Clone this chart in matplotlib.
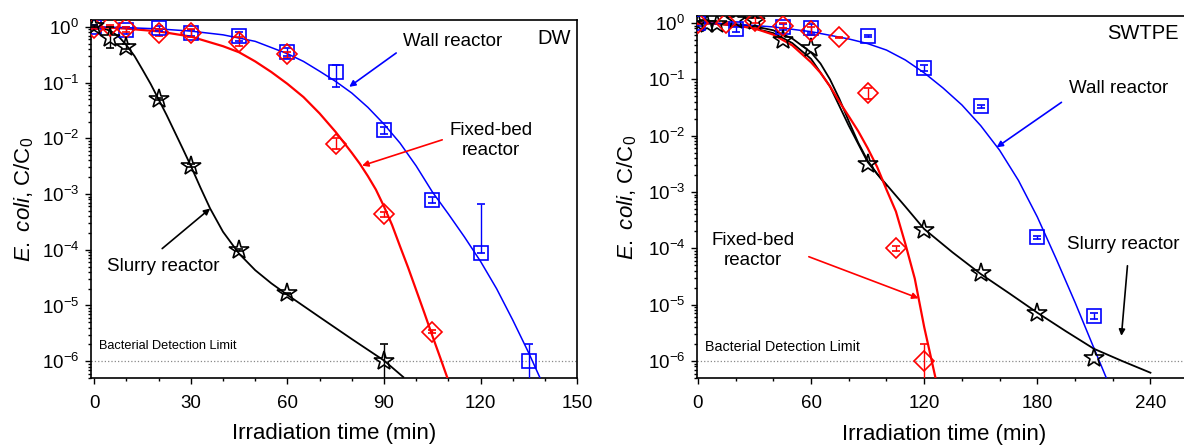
import numpy as np
import matplotlib
matplotlib.use('Agg')
import matplotlib.pyplot as plt

plt.rcParams['font.family'] = ['Liberation Sans', 'DejaVu Sans']
plt.rcParams['mathtext.fontset'] = 'custom'
plt.rcParams['mathtext.rm'] = 'Liberation Sans'
plt.rcParams['mathtext.it'] = 'Liberation Sans:italic'
plt.rcParams['axes.unicode_minus'] = False

# ---------------- DW panel data ----------------
dw_t_wall = [0, 10, 20, 30, 45, 60, 75, 90, 105, 120, 135]
dw_c_wall = [1.0, 0.88, 0.96, 0.78, 0.68, 0.36, 0.157, 0.014, 7.9e-4, 8.9e-5, 1e-6]
dw_lo_wall = [0.9, 0.75, 0.85, 0.7, 0.55, 0.3, 0.084, 0.012, 7e-4, 8.9e-5, 1e-7]
dw_hi_wall = [1.1, 1.0, 1.05, 0.88, 0.8, 0.42, 0.21, 0.016, 9e-4, 6.6e-4, 2e-6]

dw_t_fb = [0, 5, 10, 20, 30, 45, 60, 75, 90, 105]
dw_c_fb = [0.96, 1.05, 0.95, 0.78, 0.78, 0.54, 0.32, 0.008, 4.3e-4, 3.4e-6]
dw_lo_fb = [0.9, 1.0, 0.8, 0.7, 0.65, 0.45, 0.28, 0.0065, 3.8e-4, 3.2e-6]
dw_hi_fb = [1.0, 1.1, 1.0, 0.9, 0.9, 0.65, 0.36, 0.01, 4.8e-4, 3.6e-6]

dw_t_sl = [0, 5, 10, 20, 30, 45, 60, 90]
dw_c_sl = [1.05, 0.62, 0.44, 0.051, 0.0032, 1e-4, 1.65e-5, 1e-6]
dw_lo_sl = [1.0, 0.42, 0.4, 0.048, 0.003, 9.5e-5, 1.6e-5, 1e-7]
dw_hi_sl = [1.1, 1.0, 0.5, 0.054, 0.0034, 1.05e-4, 1.7e-5, 2e-6]

# fitted curves
dw_fit_wall_t = [0, 10, 20, 30, 40, 50, 60, 65, 70, 75, 80, 85, 90, 95, 100,
                 105, 110, 115, 120, 125, 130, 135, 138.5]
dw_fit_wall_c = [1.0, 0.97, 0.92, 0.84, 0.72, 0.55, 0.33, 0.24, 0.16, 0.105, 0.065,
                 0.036, 0.018, 0.0082, 0.0032, 1.1e-3, 4.4e-4, 1.7e-4, 6.2e-5, 2e-5,
                 5.5e-6, 1.4e-6, 5e-7]
dw_fit_fb_t = [0, 10, 20, 30, 40, 45, 50, 55, 60, 65, 70, 75, 80, 82.5, 85, 87.5,
               90, 92.5, 95, 97.5, 100, 102.5, 105, 107.5, 110]
dw_fit_fb_c = [1.0, 0.93, 0.83, 0.67, 0.45, 0.35, 0.24, 0.155, 0.095, 0.055, 0.028,
               0.013, 0.0055, 0.0035, 0.0021, 0.0012, 6e-4, 2.8e-4, 1.15e-4,
               4.8e-5, 1.9e-5, 7.5e-6, 2.9e-6, 1.15e-6, 4.5e-7]
dw_fit_sl_t = [0, 2.5, 5, 7.5, 10, 12.5, 15, 17.5, 20, 22.5, 25, 27.5, 30, 33, 36,
               40, 45, 50, 55, 60, 70, 80, 90, 96]
dw_fit_sl_c = [1.0, 0.95, 0.85, 0.68, 0.47, 0.3, 0.17, 0.095, 0.05, 0.026, 0.013,
               0.0065, 0.0032, 0.0013, 5.5e-4, 2.1e-4, 8.5e-5, 4.3e-5, 2.5e-5,
               1.55e-5, 6.2e-6, 2.5e-6, 1.03e-6, 5.2e-7]

# ---------------- SWTPE panel data ----------------
sw_t_wall = [0, 20, 45, 60, 90, 120, 150, 180, 210]
sw_c_wall = [1.0, 0.78, 0.85, 0.8, 0.59, 0.16, 0.033, 1.56e-4, 6.3e-6]
sw_lo_wall = [0.9, 0.7, 0.75, 0.65, 0.56, 0.14, 0.031, 1.45e-4, 5.5e-6]
sw_hi_wall = [1.1, 0.85, 0.95, 0.95, 0.62, 0.18, 0.035, 1.65e-4, 7e-6]

sw_t_fb = [0, 15, 30, 45, 60, 75, 90, 105, 120]
sw_c_fb = [1.0, 1.0, 1.1, 0.9, 0.72, 0.56, 0.057, 1e-4, 1e-6]
sw_lo_fb = [0.95, 0.95, 1.0, 0.8, 0.6, 0.55, 0.045, 9e-5, 1e-7]
sw_hi_fb = [1.05, 1.05, 1.2, 1.0, 0.85, 0.57, 0.07, 1.1e-4, 2e-6]

sw_t_sl = [0, 5, 10, 20, 30, 45, 60, 90, 120, 150, 180, 210]
sw_c_sl = [1.0, 0.95, 0.97, 1.15, 1.1, 0.5, 0.36, 0.0032, 2.1e-4, 3.7e-5, 7.2e-6, 1.14e-6]

sw_fit_wall_t = [0, 20, 40, 60, 80, 90, 100, 110, 120, 130, 140, 150, 160, 170,
                 180, 190, 200, 210, 216.6]
sw_fit_wall_c = [1.0, 0.95, 0.85, 0.7, 0.52, 0.43, 0.33, 0.22, 0.13, 0.07, 0.035,
                 0.015, 0.0055, 0.0016, 3.6e-4, 6.5e-5, 1.1e-5, 1.7e-6, 5e-7]
sw_fit_fb_t = [0, 10, 20, 30, 40, 50, 60, 65, 70, 75, 80, 85, 90, 95, 98, 100,
               105, 110, 115, 120, 126]
sw_fit_fb_c = [1.0, 0.97, 0.9, 0.8, 0.62, 0.4, 0.2, 0.13, 0.075, 0.04, 0.022,
               0.012, 0.006, 0.0028, 0.0016, 1.1e-3, 4.5e-4, 1.2e-4, 2.9e-5, 4e-6, 5e-7]
sw_fit_sl_t = [0, 10, 20, 30, 40, 50, 60, 65, 70, 75, 80, 85, 90, 95, 100, 110,
               120, 135, 150, 165, 180, 195, 210, 225, 240]
sw_fit_sl_c = [1.0, 0.98, 0.94, 0.87, 0.74, 0.53, 0.3, 0.19, 0.1, 0.045, 0.018,
               0.0075, 0.0036, 0.0021, 1.35e-3, 5.5e-4, 2.2e-4, 8.5e-5, 3.5e-5,
               1.6e-5, 7.2e-6, 3.4e-6, 1.65e-6, 1e-6, 6.2e-7]
sw_fit_sl2_t = [0, 10, 20, 30, 40, 50, 60, 70, 80, 90, 100]
sw_fit_sl2_c = [1.0, 0.96, 0.9, 0.8, 0.66, 0.44, 0.23, 0.075, 0.015, 0.0034, 1.3e-3]

blue = '#0000ff'
red = '#ff0000'
black = '#000000'

fig = plt.figure(figsize=(11.84, 4.46), dpi=100)
ax1 = fig.add_axes([0.0769, 0.1525, 0.4105, 0.8027])
ax2 = fig.add_axes([0.5887, 0.1525, 0.4172, 0.8117])


def err(c, lo, hi):
    c = np.array(c)
    return [c - np.array(lo), np.array(hi) - c]


def points(ax, t, c, lo, hi, marker, ms, color):
    if lo is None:
        ax.plot(t, c, linestyle='none', marker=marker, ms=ms, mfc='none',
                mec=color, mew=1.2, zorder=4)
    else:
        ax.errorbar(t, c, yerr=err(c, lo, hi), fmt=marker, ms=ms, mfc='none',
                    mec=color, mew=1.2, ecolor=color, elinewidth=1.0,
                    capsize=3, capthick=1.0, zorder=4)


def arrow(ax, tail, tip, color):
    ax.annotate('', xy=tip, xytext=tail,
                arrowprops=dict(arrowstyle='-|>', color=color, lw=1.2,
                                mutation_scale=9, shrinkA=0, shrinkB=0))


def style(ax, xmin, xmax, major, minor, ylab_x):
    ax.set_yscale('log')
    ax.set_xlim(xmin, xmax)
    ax.set_ylim(5e-7, 1.33)
    ax.set_xticks(np.arange(0, xmax + 1, major))
    ax.set_xticks(np.arange(0, xmax + 1, minor), minor=True)
    ax.set_yticks([1e-6, 1e-5, 1e-4, 1e-3, 1e-2, 1e-1, 1])
    ax.tick_params(which='both', direction='out', top=False, right=False,
                   labelsize=13.5, width=1.0)
    ax.tick_params(which='major', length=4.5)
    ax.tick_params(which='minor', length=2.5)
    ax.tick_params(axis='x', pad=8)
    ax.tick_params(axis='y', pad=4)
    for s in ax.spines.values():
        s.set_linewidth(1.2)
    ax.axhline(1e-6, color='#888888', ls=':', lw=0.9, zorder=1)
    ax.set_xlabel('Irradiation time (min)', fontsize=16)
    ax.set_ylabel(r'$\mathit{E.\ coli}$, C/C$_\mathregular{0}$', fontsize=16)
    ax.xaxis.set_label_coords(0.5, -0.127)
    ax.yaxis.set_label_coords(ylab_x, 0.5)


# ---- DW ----
ax1.plot(dw_fit_sl_t, dw_fit_sl_c, color=black, lw=1.3, zorder=3)
ax1.plot(dw_fit_fb_t, dw_fit_fb_c, color=red, lw=1.6, zorder=3)
ax1.plot(dw_fit_wall_t, dw_fit_wall_c, color=blue, lw=1.1, zorder=3)
points(ax1, dw_t_wall, dw_c_wall, dw_lo_wall, dw_hi_wall, 's', 10.5, blue)
points(ax1, dw_t_fb, dw_c_fb, dw_lo_fb, dw_hi_fb, 'D', 10, red)
points(ax1, dw_t_sl, dw_c_sl, dw_lo_sl, dw_hi_sl, '*', 15, black)
style(ax1, -1, 150, 30, 10, -0.113)

ax1.text(111.2, 0.54, 'Wall reactor', fontsize=13.5, ha='center', va='center')
arrow(ax1, (93.8, 0.34), (79.2, 0.084), blue)
ax1.text(148.1, 0.61, 'DW', fontsize=14.5, ha='right', va='center')
ax1.text(123.3, 0.0091, 'Fixed-bed\nreactor', fontsize=13.5, ha='center',
         va='center', linespacing=1.2)
arrow(ax1, (108.1, 0.0094), (83.2, 0.00323), red)
ax1.text(21.4, 5e-5, 'Slurry reactor', fontsize=13.5, ha='center', va='center')
arrow(ax1, (21.1, 1.05e-4), (36, 5.5e-4), black)
ax1.text(1.55, 1.85e-6, 'Bacterial Detection Limit', fontsize=9.2,
         ha='left', va='center')

# ---- SWTPE ----
ax2.plot(sw_fit_sl2_t, sw_fit_sl2_c, color=black, lw=1.3, zorder=3)
ax2.plot(sw_fit_sl_t, sw_fit_sl_c, color=black, lw=1.3, zorder=3)
ax2.plot(sw_fit_fb_t, sw_fit_fb_c, color=red, lw=1.6, zorder=3)
ax2.plot(sw_fit_wall_t, sw_fit_wall_c, color=blue, lw=1.1, zorder=3)
points(ax2, sw_t_wall, sw_c_wall, sw_lo_wall, sw_hi_wall, 's', 10.5, blue)
points(ax2, sw_t_fb, sw_c_fb, sw_lo_fb, sw_hi_fb, 'D', 10, red)
points(ax2, sw_t_sl, sw_c_sl, None, None, '*', 15, black)
style(ax2, -0.5, 261.5, 60, 20, -0.118)

ax2.text(254.8, 0.64, 'SWTPE', fontsize=14.5, ha='right', va='center')
ax2.text(223, 0.07, 'Wall reactor', fontsize=13.5, ha='center', va='center')
arrow(ax2, (192.8, 0.039), (158.4, 0.0062), blue)
ax2.text(29.1, 9.1e-5, 'Fixed-bed\nreactor', fontsize=13.5, ha='center',
         va='center', linespacing=1.2)
arrow(ax2, (58.8, 7.1e-5), (117, 1.3e-5), red)
ax2.text(225.6, 1.17e-4, 'Slurry reactor', fontsize=13.5, ha='center', va='center')
arrow(ax2, (227.8, 4.9e-5), (224.6, 2.8e-6), black)
ax2.text(3.7, 1.8e-6, 'Bacterial Detection Limit', fontsize=10.3,
         ha='left', va='center')

fig.savefig('out.png', dpi=100)
